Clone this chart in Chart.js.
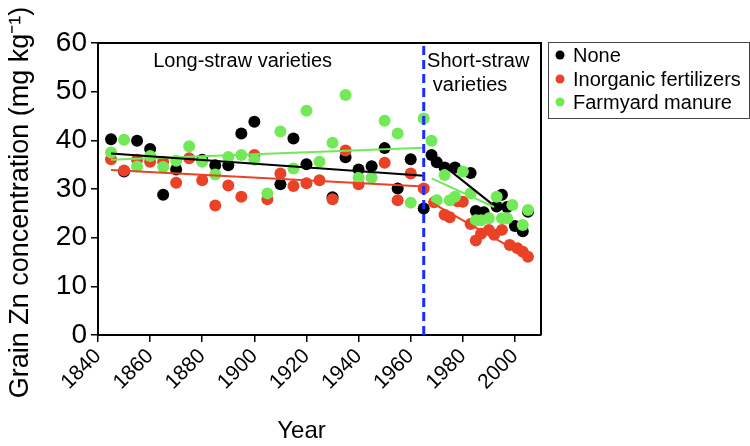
<!DOCTYPE html>
<html><head><meta charset="utf-8">
<script src="https://cdn.jsdelivr.net/npm/chart.js@4"></script>
<style>html,body{margin:0;padding:0;background:#fff;}</style>
</head><body>
<canvas id="c" width="750" height="446"></canvas>
<script>
// ---- data ----
const seriesLabels = ['None', 'Inorganic fertilizers', 'Farmyard manure'];
const noneYears = [1845,1850,1855,1860,1865,1870,1880,1885,1890,1895,1900,1910,1915,1920,1930,1935,1940,1945,1950,1955,1960,1965,1968,1970,1973,1977,1983,1985,1988,1993,1995,1997,2000,2003,2005];
const noneZn    = [40.2,33.6,39.9,38.2,28.8,34.0,36.0,34.9,34.9,41.4,43.8,31.0,40.4,35.1,28.3,36.5,34.0,34.7,38.4,30.1,36.1,26.0,37.0,35.5,34.4,34.4,33.3,25.5,25.2,26.4,28.8,26.3,22.4,21.3,25.3];
const inorgYears = [1845,1850,1855,1860,1865,1870,1875,1880,1885,1890,1895,1900,1905,1910,1915,1920,1925,1930,1935,1940,1950,1955,1960,1965,1969,1973,1975,1978,1980,1983,1985,1987,1990,1992,1995,1998,2001,2003,2005];
const inorgZn    = [36.1,33.8,36.0,35.6,35.6,31.3,36.3,31.8,26.6,30.7,28.4,37.0,27.9,33.2,30.6,31.2,31.8,27.9,37.9,31.0,35.4,27.7,33.2,30.1,27.3,24.7,24.2,27.5,27.4,22.8,19.4,20.8,21.6,20.6,21.6,18.5,17.8,17.1,16.1];
const farmYears = [1845,1850,1855,1860,1865,1870,1875,1880,1885,1890,1895,1900,1905,1910,1915,1920,1925,1930,1935,1940,1945,1950,1955,1960,1965,1968,1970,1973,1975,1977,1980,1983,1985,1987,1990,1993,1995,1997,1999,2003,2005];
const farmZn    = [37.5,40.1,34.6,36.8,34.5,35.8,38.8,35.6,33.0,36.6,37.0,36.0,29.1,41.8,34.2,46.1,35.6,39.5,49.3,32.3,32.3,44.0,41.4,27.2,44.5,39.9,27.7,32.9,27.7,28.4,33.6,29.1,23.6,23.6,24.0,28.4,24.0,24.0,26.7,22.6,25.7];

// trend lines: [start, end] years and values for each period
const noneTrendLongYears = [1845, 1965];   const noneTrendLongZn = [37.3, 32.7];
const noneTrendShortYears = [1968, 1991];  const noneTrendShortZn = [36.8, 27.0];
const inorgTrendLongYears = [1845, 1965];  const inorgTrendLongZn = [33.9, 30.5];
const inorgTrendShortYears = [1967, 2005]; const inorgTrendShortZn = [27.5, 16.0];
const farmTrendLongYears = [1845, 1965];   const farmTrendLongZn = [36.0, 38.5];
const farmTrendShortYears = [1968, 1992];  const farmTrendShortZn = [32.2, 26.3];

const divideYear = 1965;
const xTicks = [1840,1860,1880,1900,1920,1940,1960,1980,2000];
const yTicks = [0,10,20,30,40,50,60];
const periodLabels = ['Long-straw varieties', 'Short-straw', 'varieties'];

// ---- styles ----
const FONT = "'Liberation Sans', Arial, Helvetica, sans-serif";
const colors = ['#000000', '#ea4226', '#72ea58'];
const toPts = (xs, ys) => xs.map((x, i) => ({x: x, y: ys[i]}));

function pointSet(label, xs, ys, color, order) {
  return {label, data: toPts(xs, ys), backgroundColor: color, borderColor: color,
          pointRadius: 6, pointBorderWidth: 0, pointHoverRadius: 6, showLine: false, order};
}
function lineSet(xs, ys, color) {
  return {label: '', data: toPts(xs, ys), borderColor: color, backgroundColor: color,
          borderWidth: 2, pointRadius: 0, showLine: true, fill: false, order: 0};
}

const datasets = [
  pointSet(seriesLabels[0], noneYears, noneZn, colors[0], 3),
  pointSet(seriesLabels[1], inorgYears, inorgZn, colors[1], 2),
  pointSet(seriesLabels[2], farmYears, farmZn, colors[2], 1),
  lineSet(noneTrendLongYears, noneTrendLongZn, colors[0]),
  lineSet(noneTrendShortYears, noneTrendShortZn, colors[0]),
  lineSet(inorgTrendLongYears, inorgTrendLongZn, colors[1]),
  lineSet(inorgTrendShortYears, inorgTrendShortZn, colors[1]),
  lineSet(farmTrendLongYears, farmTrendLongZn, colors[2]),
  lineSet(farmTrendShortYears, farmTrendShortZn, colors[2]),
  {label: '', data: [{x: divideYear, y: yTicks[0]}, {x: divideYear, y: yTicks[yTicks.length - 1]}],
   borderColor: '#1b2cff', borderWidth: 3, borderDash: [9, 5], pointRadius: 0, showLine: true, order: -1}
];

const decor = {
  id: 'decor',
  afterDatasetsDraw(chart) {
    const {ctx, chartArea: a, scales: {x, y}} = chart;
    ctx.save();
    ctx.strokeStyle = '#000'; ctx.lineWidth = 2;
    ctx.beginPath();
    ctx.moveTo(a.left, a.top); ctx.lineTo(a.right, a.top); ctx.lineTo(a.right, a.bottom);
    ctx.stroke();
    ctx.fillStyle = '#000';
    ctx.font = '20px ' + FONT;
    ctx.textBaseline = 'middle';
    ctx.textAlign = 'center';
    ctx.fillText(periodLabels[0], x.getPixelForValue(1895.5), y.getPixelForValue(56.1));
    ctx.textAlign = 'left';
    ctx.fillText(periodLabels[1], x.getPixelForValue(1966.3), y.getPixelForValue(56.1));
    ctx.fillText(periodLabels[2], x.getPixelForValue(1968.5), y.getPixelForValue(51.2));
    ctx.restore();
  },
  afterDraw(chart) {
    const {ctx, chartArea: a, width} = chart;
    ctx.save();
    const left = a.right + 7, top = a.top - 1, w = width - 1 - left, h = 76;
    ctx.strokeStyle = '#444'; ctx.lineWidth = 1;
    ctx.strokeRect(left + 0.5, top + 0.5, w, h);
    ctx.font = '20px ' + FONT;
    ctx.textAlign = 'left'; ctx.textBaseline = 'middle';
    const rowY = [13, 37, 60];
    seriesLabels.forEach((lab, i) => {
      ctx.fillStyle = colors[i];
      ctx.beginPath(); ctx.arc(left + 12, top + rowY[i], 4.5, 0, Math.PI * 2); ctx.fill();
      ctx.fillStyle = '#000';
      ctx.fillText(lab, left + 25, top + rowY[i] + 1);
    });
    ctx.restore();
  }
};

new Chart(document.getElementById('c'), {
  type: 'scatter',
  data: {datasets},
  options: {
    responsive: false, animation: false, devicePixelRatio: 1,
    layout: {padding: {top: 43, right: 209, left: 0, bottom: 0}},
    plugins: {legend: {display: false}, tooltip: {enabled: false}},
    scales: {
      x: {
        type: 'linear', min: 1840, max: 2010,
        afterBuildTicks: s => { s.ticks = xTicks.map(v => ({value: v})); },
        afterFit: s => { s.height = 111; },
        grid: {drawOnChartArea: false, drawTicks: true, tickLength: 7, color: '#000', lineWidth: 1.5},
        border: {display: true, color: '#000', width: 2},
        ticks: {color: '#000', font: {family: FONT, size: 21}, minRotation: 45, maxRotation: 45, padding: 2, autoSkip: false,
                callback: v => String(v)},
        title: {display: true, text: 'Year\u2003\u2002', color: '#000', font: {family: FONT, size: 24}, padding: 0}
      },
      y: {
        min: 0, max: 60,
        afterBuildTicks: s => { s.ticks = yTicks.map(v => ({value: v})); },
        afterFit: s => { s.width = 98; },
        grid: {drawOnChartArea: false, drawTicks: true, tickLength: 7, color: '#000', lineWidth: 1.5},
        border: {display: true, color: '#000', width: 2},
        ticks: {color: '#000', font: {family: FONT, size: 28}, padding: 4, callback: v => String(v)},
        title: {display: true, text: 'Grain Zn concentration (mg kg\u207B\u00B9)\u2003', color: '#000', font: {family: FONT, size: 27}, padding: {top: 4, bottom: 0}}
      }
    }
  },
  plugins: [decor]
});
</script>
</body></html>
